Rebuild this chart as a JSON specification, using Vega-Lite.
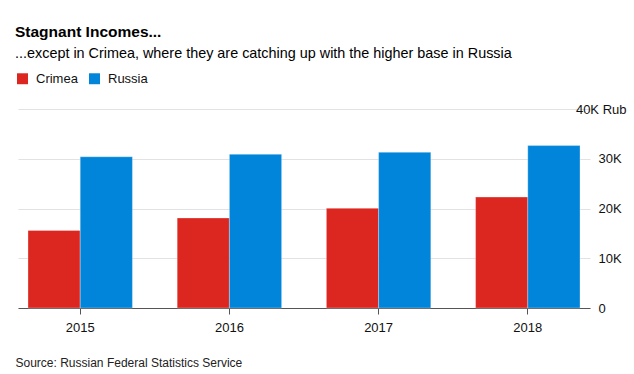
{
  "$schema": "https://vega.github.io/schema/vega-lite/v6.json",
  "width": 572,
  "height": 199,
  "autosize": {"type": "none"},
  "padding": {"left": 18, "top": 109, "right": 44, "bottom": 66},
  "background": "white",
  "config": {
    "font": "Liberation Sans",
    "view": {"stroke": null}
  },
  "title": {
    "text": "Stagnant Incomes...",
    "subtitle": "...except in Crimea, where they are catching up with the higher base in Russia",
    "anchor": "start",
    "frame": "group",
    "dx": -3,
    "offset": 12,
    "fontSize": 15.5,
    "fontWeight": "bold",
    "color": "#000000",
    "subtitleFontSize": 14.4,
    "subtitleColor": "#000000",
    "subtitlePadding": 6
  },
  "data": {
    "values": [
      {"year": "2015", "region": "Crimea", "income": 15600},
      {"year": "2015", "region": "Russia", "income": 30400},
      {"year": "2016", "region": "Crimea", "income": 18100},
      {"year": "2016", "region": "Russia", "income": 30900},
      {"year": "2017", "region": "Crimea", "income": 20050},
      {"year": "2017", "region": "Russia", "income": 31300},
      {"year": "2018", "region": "Crimea", "income": 22300},
      {"year": "2018", "region": "Russia", "income": 32650}
    ]
  },
  "mark": {"type": "bar", "stroke": "white", "strokeWidth": 0.5, "strokeOpacity": 0.6},
  "encoding": {
    "x": {
      "field": "year",
      "type": "nominal",
      "scale": {"paddingInner": 0.3, "paddingOuter": 0.067},
      "axis": {
        "title": "Source: Russian Federal Statistics Service",
        "titleAnchor": "start",
        "titleAlign": "left",
        "titleX": -3,
        "titleY": 58,
        "titleBaseline": "alphabetic",
        "titleFontSize": 12,
        "titleFontWeight": "normal",
        "titleColor": "#222222",
        "labelAngle": 0,
        "labelFontSize": 13,
        "labelColor": "#111111",
        "labelPadding": 7,
        "tickSize": 6,
        "tickColor": "#555555",
        "domainColor": "#555555",
        "domainWidth": 1.2,
        "grid": false
      }
    },
    "xOffset": {
      "field": "region",
      "type": "nominal",
      "scale": {"paddingInner": 0, "paddingOuter": 0}
    },
    "y": {
      "field": "income",
      "type": "quantitative",
      "scale": {"domain": [0, 40000], "nice": false},
      "axis": {
        "orient": "right",
        "title": null,
        "values": [0, 10000, 20000, 30000, 40000],
        "labelExpr": "datum.value == 40000 ? '40K Rub' : datum.value == 0 ? '0' : (datum.value / 1000) + 'K'",
        "labelFontSize": 13,
        "labelColor": "#111111",
        "labelAlign": {"condition": {"test": "datum.value == 40000", "value": "right"}, "value": "left"},
        "labelPadding": {"condition": {"test": "datum.value == 40000", "value": 36}, "value": 8},
        "ticks": false,
        "domain": false,
        "grid": true,
        "gridColor": "#e2e2e2",
        "gridWidth": 1.2
      }
    },
    "color": {
      "field": "region",
      "type": "nominal",
      "scale": {"domain": ["Crimea", "Russia"], "range": ["#dc2720", "#0085da"]},
      "legend": {
        "orient": "none",
        "legendX": -2,
        "legendY": -37,
        "direction": "horizontal",
        "title": null,
        "symbolType": "square",
        "symbolSize": 120,
        "symbolStrokeWidth": 0,
        "labelFontSize": 13,
        "labelColor": "#111111",
        "labelOffset": 7,
        "columnPadding": 10
      }
    }
  }
}
